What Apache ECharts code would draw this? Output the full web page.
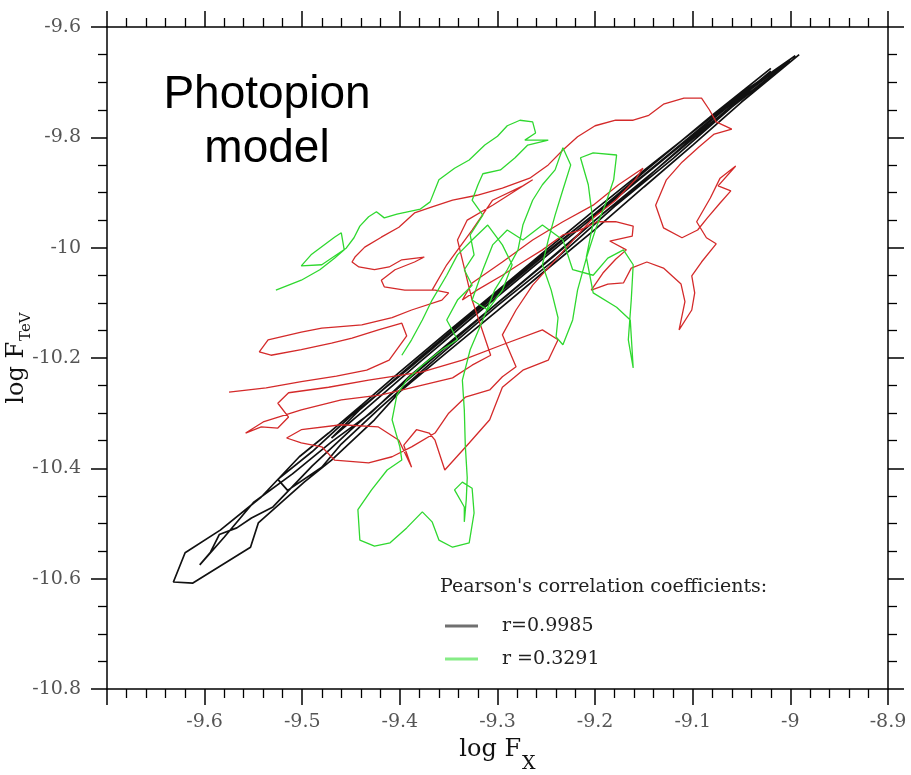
<!DOCTYPE html>
<html><head><meta charset="utf-8">
<script src="https://cdn.jsdelivr.net/npm/echarts@6/dist/echarts.min.js"></script>
<style>html,body{margin:0;padding:0;background:#fff}#c{width:911px;height:775px}</style>
</head><body><div id="c"></div>
<script>
// ---- axis settings ----
const xMin = -9.7, xMax = -8.9, xStep = 0.1;
const yMin = -10.8, yMax = -9.6, yStep = 0.2;
const xTitle = 'log F', xSub = 'X';
const yTitle = 'log F', ySub = 'TeV';
const modelLabel = 'Photopion\nmodel';
const legendTitle = "Pearson's correlation coefficients:";
const blackName = 'r=0.9985';
const greenName = 'r =0.3291';

// ---- black (model) trajectory: [log Fx, log FTeV] ----
const blackPath = [
 [-8.991,-9.650],[-9.05,-9.736],[-9.10,-9.814],[-9.15,-9.890],[-9.20,-9.967],[-9.25,-10.040],[-9.30,-10.114],
 [-9.35,-10.187],[-9.40,-10.261],[-9.426,-10.312],[-9.470,-10.385],[-9.498,-10.425],[-9.545,-10.499],
 [-9.553,-10.543],[-9.612,-10.608],[-9.632,-10.606],
 [-9.620,-10.553],[-9.584,-10.512],[-9.542,-10.452],[-9.503,-10.379],[-9.473,-10.336],[-9.439,-10.285],
 [-9.40,-10.225],[-9.35,-10.151],[-9.30,-10.078],[-9.25,-10.004],[-9.20,-9.931],[-9.15,-9.860],[-9.10,-9.790],
 [-9.05,-9.720],[-8.995,-9.652],
 [-9.04,-9.712],[-9.09,-9.788],[-9.14,-9.862],[-9.19,-9.935],[-9.24,-10.012],[-9.29,-10.086],[-9.34,-10.158],
 [-9.39,-10.233],[-9.43,-10.300],[-9.47,-10.352],[-9.51,-10.410],[-9.55,-10.462],[-9.58,-10.525],[-9.605,-10.575],
 [-9.594,-10.552],[-9.585,-10.520],[-9.567,-10.508],[-9.552,-10.490],[-9.53,-10.470],
 [-9.49,-10.396],[-9.45,-10.330],[-9.40,-10.252],[-9.35,-10.176],[-9.30,-10.100],[-9.25,-10.026],[-9.20,-9.950],
 [-9.15,-9.878],[-9.10,-9.800],[-9.05,-9.730],[-9.00,-9.662],
 [-9.06,-9.745],[-9.12,-9.838],[-9.18,-9.925],[-9.24,-10.020],[-9.30,-10.105],[-9.36,-10.196],[-9.42,-10.290],
 [-9.46,-10.356],[-9.48,-10.398],[-9.515,-10.440],[-9.525,-10.420],[-9.49,-10.370],[-9.45,-10.305],[-9.39,-10.218],
 [-9.33,-10.128],[-9.27,-10.040],[-9.21,-9.952],[-9.15,-9.868],[-9.09,-9.780],[-9.03,-9.695],
 [-9.02,-9.680],[-9.08,-9.768],[-9.14,-9.855],[-9.20,-9.942],[-9.26,-10.030],[-9.32,-10.118],[-9.38,-10.208],
 [-9.44,-10.300],[-9.47,-10.345],[-9.44,-10.292],[-9.38,-10.200],[-9.32,-10.110],[-9.26,-10.022],[-9.20,-9.938],
 [-9.14,-9.848],[-9.08,-9.760],[-9.02,-9.675]
];

// ---- red trajectory ----
const redPath = [
 [-9.575,-10.262],[-9.537,-10.254],[-9.501,-10.243],[-9.465,-10.233],[-9.434,-10.222],[-9.411,-10.204],
 [-9.393,-10.160],[-9.398,-10.137],[-9.422,-10.149],[-9.449,-10.164],[-9.470,-10.173],[-9.501,-10.185],
 [-9.532,-10.195],[-9.544,-10.189],[-9.535,-10.167],[-9.501,-10.153],[-9.480,-10.146],[-9.467,-10.144],
 [-9.439,-10.140],[-9.408,-10.127],[-9.388,-10.113],[-9.357,-10.095],[-9.350,-10.082],[-9.364,-10.077],
 [-9.395,-10.077],[-9.416,-10.071],[-9.419,-10.059],[-9.405,-10.040],[-9.385,-10.026],[-9.375,-10.017],
 [-9.398,-10.022],[-9.411,-10.035],[-9.426,-10.040],[-9.442,-10.035],[-9.449,-10.026],[-9.446,-10.017],
 [-9.436,-9.999],[-9.419,-9.981],[-9.401,-9.963],[-9.385,-9.937],[-9.367,-9.926],[-9.346,-9.914],
 [-9.321,-9.905],[-9.295,-9.892],[-9.267,-9.874],[-9.248,-9.850],[-9.233,-9.823],[-9.218,-9.799],
 [-9.200,-9.779],[-9.179,-9.769],[-9.161,-9.769],[-9.145,-9.760],[-9.130,-9.740],[-9.109,-9.729],
 [-9.091,-9.729],[-9.083,-9.750],[-9.076,-9.772],[-9.060,-9.785],[-9.078,-9.794],[-9.094,-9.818],
 [-9.111,-9.845],[-9.127,-9.877],[-9.138,-9.923],[-9.130,-9.964],[-9.111,-9.982],[-9.095,-9.968],
 [-9.085,-9.946],[-9.072,-9.919],[-9.061,-9.897],[-9.074,-9.888],[-9.056,-9.852],[-9.072,-9.874],
 [-9.082,-9.910],[-9.096,-9.953],[-9.086,-9.982],[-9.076,-9.993],[-9.091,-10.026],[-9.101,-10.051],
 [-9.098,-10.082],[-9.101,-10.113],[-9.114,-10.149],[-9.108,-10.098],[-9.112,-10.066],[-9.130,-10.037],
 [-9.147,-10.026],[-9.163,-10.037],[-9.171,-10.064],[-9.187,-10.066],[-9.204,-10.077],[-9.192,-10.046],
 [-9.179,-10.021],[-9.168,-10.004],[-9.185,-9.988],[-9.162,-9.979],[-9.161,-9.961],[-9.179,-9.953],
 [-9.198,-9.953],[-9.218,-9.970],[-9.233,-9.977],[-9.254,-10.004],[-9.274,-10.026],[-9.295,-10.050],
 [-9.321,-10.077],[-9.336,-10.095],[-9.326,-10.064],[-9.295,-10.026],[-9.264,-9.986],[-9.233,-9.953],
 [-9.202,-9.923],[-9.176,-9.886],[-9.151,-9.856],[-9.159,-9.877],[-9.179,-9.914],[-9.202,-9.946],
 [-9.264,-10.068],[-9.281,-10.113],[-9.295,-10.158],[-9.281,-10.216],[-9.295,-10.234],[-9.308,-10.258],
 [-9.333,-10.271],[-9.350,-10.300],[-9.364,-10.336],[-9.388,-10.361],[-9.408,-10.379],[-9.432,-10.390],
 [-9.467,-10.385],[-9.480,-10.361],[-9.501,-10.354],[-9.516,-10.345],[-9.501,-10.330],[-9.460,-10.321],
 [-9.422,-10.325],[-9.401,-10.349],[-9.388,-10.398],[-9.396,-10.358],[-9.383,-10.330],[-9.370,-10.336],
 [-9.364,-10.349],[-9.354,-10.403],[-9.329,-10.354],[-9.308,-10.312],[-9.295,-10.253],[-9.274,-10.222],
 [-9.248,-10.204],[-9.238,-10.167],[-9.254,-10.149],[-9.295,-10.176],[-9.336,-10.204],[-9.377,-10.225],
 [-9.432,-10.240],[-9.473,-10.253],[-9.514,-10.263],[-9.525,-10.282],[-9.514,-10.307],[-9.525,-10.327],
 [-9.542,-10.325],[-9.558,-10.336],[-9.540,-10.316],[-9.501,-10.294],[-9.460,-10.276],[-9.419,-10.267],
 [-9.377,-10.249],[-9.346,-10.236],[-9.326,-10.213],[-9.307,-10.195],[-9.326,-10.095],[-9.341,-9.986],
 [-9.331,-9.950],[-9.305,-9.923],[-9.264,-9.877],[-9.274,-9.888],[-9.305,-9.914],[-9.326,-9.968],
 [-9.352,-10.031],[-9.367,-10.077]
];

// ---- green trajectory ----
const greenPath = [
 [-9.527,-10.077],[-9.501,-10.059],[-9.482,-10.040],[-9.467,-10.019],[-9.457,-10.004],[-9.460,-9.973],
 [-9.467,-9.981],[-9.491,-10.013],[-9.501,-10.033],[-9.480,-10.031],[-9.455,-10.001],[-9.447,-9.982],
 [-9.441,-9.961],[-9.432,-9.944],[-9.424,-9.935],[-9.416,-9.946],[-9.403,-9.939],[-9.379,-9.930],
 [-9.369,-9.917],[-9.360,-9.877],[-9.344,-9.856],[-9.329,-9.841],[-9.313,-9.814],[-9.300,-9.798],
 [-9.290,-9.779],[-9.277,-9.769],[-9.264,-9.772],[-9.261,-9.792],[-9.272,-9.805],[-9.248,-9.805],
 [-9.269,-9.814],[-9.282,-9.837],[-9.297,-9.859],[-9.315,-9.866],[-9.320,-9.886],[-9.326,-9.914],
 [-9.315,-9.941],[-9.328,-9.977],[-9.324,-10.013],[-9.334,-10.040],[-9.326,-10.068],[-9.341,-10.095],
 [-9.352,-10.131],[-9.341,-10.167],[-9.357,-10.185],[-9.377,-10.213],[-9.393,-10.240],[-9.403,-10.267],
 [-9.408,-10.312],[-9.400,-10.361],[-9.398,-10.385],[-9.413,-10.403],[-9.429,-10.439],[-9.443,-10.475],
 [-9.441,-10.530],[-9.426,-10.541],[-9.410,-10.535],[-9.393,-10.508],[-9.377,-10.479],[-9.367,-10.497],
 [-9.360,-10.530],[-9.346,-10.543],[-9.329,-10.535],[-9.324,-10.481],[-9.326,-10.436],[-9.336,-10.425],
 [-9.344,-10.439],[-9.334,-10.470],[-9.334,-10.497],[-9.332,-10.457],[-9.331,-10.417],[-9.333,-10.358],
 [-9.334,-10.294],[-9.336,-10.240],[-9.328,-10.185],[-9.315,-10.131],[-9.303,-10.077],[-9.290,-10.040],
 [-9.279,-10.004],[-9.274,-9.959],[-9.264,-9.914],[-9.254,-9.886],[-9.241,-9.859],[-9.233,-9.819],
 [-9.225,-9.850],[-9.233,-9.895],[-9.241,-9.941],[-9.248,-9.986],[-9.254,-10.031],[-9.245,-10.077],
 [-9.238,-10.127],[-9.240,-10.162],[-9.233,-10.176],[-9.223,-10.131],[-9.218,-10.077],[-9.209,-10.019],
 [-9.199,-9.964],[-9.189,-9.919],[-9.181,-9.877],[-9.178,-9.832],[-9.202,-9.828],[-9.215,-9.837],
 [-9.207,-9.886],[-9.202,-9.955],[-9.209,-10.017],[-9.202,-10.082],[-9.178,-10.108],[-9.164,-10.131],
 [-9.161,-10.218],[-9.166,-10.167],[-9.163,-10.095],[-9.161,-10.031],[-9.171,-10.004],[-9.187,-10.019],
 [-9.202,-10.050],[-9.223,-10.040],[-9.233,-9.986],[-9.254,-9.959],[-9.274,-9.986],[-9.290,-9.968],
 [-9.305,-9.995],[-9.315,-10.040],[-9.326,-10.095],[-9.310,-10.113],[-9.295,-10.077],[-9.285,-10.031],
 [-9.295,-9.995],[-9.310,-9.959],[-9.326,-9.986],[-9.341,-10.013],[-9.352,-10.050],[-9.367,-10.095],
 [-9.377,-10.131],[-9.388,-10.167],[-9.398,-10.195]
];

const SERIF = '"DejaVu Serif", "Liberation Serif", serif';
const fmt = v => (v < xMin + xStep / 2 - 1e-9) ? '' : String(parseFloat(v.toFixed(2)));
const fmtY = v => String(parseFloat(v.toFixed(2)));

function xAxisDef(pos, labels) {
  return {
    type: 'value', position: pos, min: xMin, max: xMax, interval: xStep,
    axisLine: { show: true, onZero: false, lineStyle: { color: '#000', width: 1.5 } },
    axisTick: { show: true, inside: false, length: 16, lineStyle: { color: '#000', width: 1.5 } },
    minorTick: { show: true, splitNumber: 5, length: 9, lineStyle: { color: '#000', width: 1.3 } },
    splitLine: { show: false }, minorSplitLine: { show: false },
    axisLabel: { show: labels, formatter: fmt, margin: 24, color: '#555', fontFamily: SERIF, fontSize: 19 },
    name: labels ? '{a|' + xTitle + '}{s|' + xSub + '}' : '',
    nameLocation: 'middle', nameGap: 49, nameMoveOverlap: false,
    nameTextStyle: { rich: {
      a: { fontFamily: SERIF, fontSize: 24, color: '#111', lineHeight: 28, verticalAlign: 'top' },
      s: { fontFamily: SERIF, fontSize: 19, color: '#111', lineHeight: 20, padding: [17, 0, 0, 1], verticalAlign: 'top' }
    } }
  };
}
function yAxisDef(pos, labels) {
  return {
    type: 'value', position: pos, min: yMin, max: yMax, interval: yStep,
    axisLine: { show: true, onZero: false, lineStyle: { color: '#000', width: 1.5 } },
    axisTick: { show: true, inside: false, length: 16, lineStyle: { color: '#000', width: 1.5 } },
    minorTick: { show: true, splitNumber: 4, length: 9, lineStyle: { color: '#000', width: 1.3 } },
    splitLine: { show: false }, minorSplitLine: { show: false },
    axisLabel: { show: labels, formatter: fmtY, margin: 26, color: '#555', fontFamily: SERIF, fontSize: 19 },
    name: labels ? '{a|' + yTitle + '}{s|' + ySub + '}' : '',
    nameLocation: 'middle', nameGap: 74, nameRotate: 90, nameMoveOverlap: false,
    nameTextStyle: { rich: {
      a: { fontFamily: SERIF, fontSize: 24, color: '#111', lineHeight: 28, verticalAlign: 'top' },
      s: { fontFamily: SERIF, fontSize: 15, color: '#111', lineHeight: 18, padding: [14, 0, 0, 1], verticalAlign: 'top' }
    } }
  };
}

const chart = echarts.init(document.getElementById('c'), null, { renderer: 'canvas' });
chart.setOption({
  animation: false,
  backgroundColor: '#fff',
  grid: { left: 107, right: 23, top: 27, bottom: 86, containLabel: false, outerBoundsMode: 'none' },
  xAxis: [xAxisDef('bottom', true), xAxisDef('top', false)],
  yAxis: [yAxisDef('left', true), yAxisDef('right', false)],
  legend: {
    left: 440, top: 610, orient: 'vertical', itemGap: 11, selectedMode: false,
    icon: 'rect', itemWidth: 33, itemHeight: 3,
    textStyle: { fontFamily: SERIF, fontSize: 19, color: '#222', lineHeight: 22, padding: [0, 0, 0, 19] },
    data: [
      { name: blackName, itemStyle: { color: '#707070' } },
      { name: greenName, itemStyle: { color: '#86ec86' } }
    ]
  },
  graphic: [
    { type: 'text', left: 440, top: 578, z: 100,
      style: { text: legendTitle, fontFamily: SERIF, fontSize: 19, fill: '#222' } },
    { type: 'text', x: 267, y: 68, z: 100,
      style: { text: modelLabel, fontFamily: '"Liberation Sans", Arial, sans-serif', fontSize: 46,
               lineHeight: 54, fill: '#000', align: 'center', verticalAlign: 'top' } }
  ],
  series: [
    { name: blackName, type: 'line', data: blackPath, showSymbol: false, symbol: 'none',
      color: '#111', lineStyle: { color: '#111', width: 1.7 }, z: 2 },
    { name: 'red', type: 'line', data: redPath, showSymbol: false, symbol: 'none',
      color: '#d42a2a', lineStyle: { color: '#d42a2a', width: 1.3 }, z: 3 },
    { name: greenName, type: 'line', data: greenPath, showSymbol: false, symbol: 'none',
      color: '#2fd82f', lineStyle: { color: '#2fd82f', width: 1.3 }, z: 4 }
  ]
});
</script>
</body></html>
